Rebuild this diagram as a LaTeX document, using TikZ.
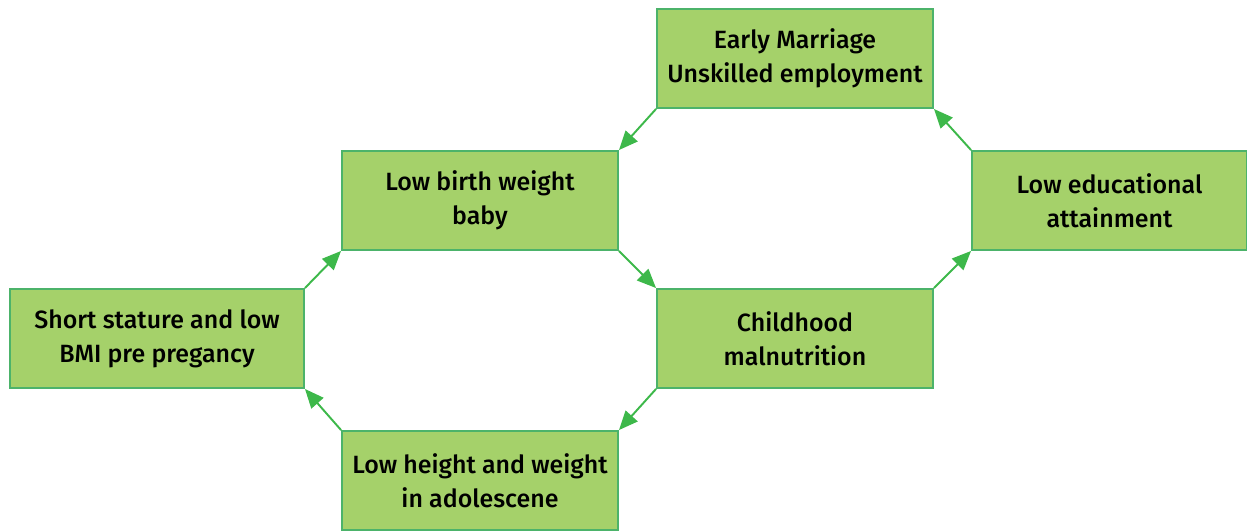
\documentclass[tikz,border=0pt]{standalone}
\usepackage{fontspec}
\setmainfont{Fira Sans}[BoldFont={Fira Sans Medium}]
\usepackage{tikz}
\usetikzlibrary{arrows.meta, positioning}
\definecolor{boxfill}{HTML}{A5D16A}
\definecolor{boxline}{HTML}{4CB36A}
\definecolor{arrgreen}{HTML}{3DB84A}

\begin{document}
\begin{tikzpicture}[
  cycbox/.style={rectangle, draw=boxline, fill=boxfill, line width=1.1pt,
    minimum width=5.52cm, minimum height=1.98cm, align=center,
    font=\fontsize{14.2}{19.5}\selectfont\bfseries},
  arr/.style={-{Triangle[length=0.38cm, width=0.32cm]}, line width=1.1pt, arrgreen},
]
\useasboundingbox (0,0) rectangle (24.94,-10.62);

\node[cycbox] (marriage) at (15.90,-1.17) {Early Marriage\\Unskilled employment};
\node[cycbox] (lbw) at (9.60,-4.01) {Low birth weight\\baby};
\node[cycbox, minimum width=5.50cm] (educ) at (22.19,-4.01) {Low educational\\attainment};
\node[cycbox, minimum width=5.88cm] (stature) at (3.14,-6.77) {Short stature and low\\BMI pre pregancy};
\node[cycbox] (child) at (15.90,-6.77) {Childhood\\malnutrition};
\node[cycbox] (adol) at (9.60,-9.61) {Low height and weight\\in adolescene};

\draw[arr] (marriage.south west) -- (lbw.north east);
\draw[arr] (lbw.south east) -- (child.north west);
\draw[arr] (child.north east) -- (educ.south west);
\draw[arr] (educ.north west) -- (marriage.south east);
\draw[arr] (child.south west) -- (adol.north east);
\draw[arr] (adol.north west) -- (stature.south east);
\draw[arr] (stature.north east) -- (lbw.south west);

\end{tikzpicture}
\end{document}
